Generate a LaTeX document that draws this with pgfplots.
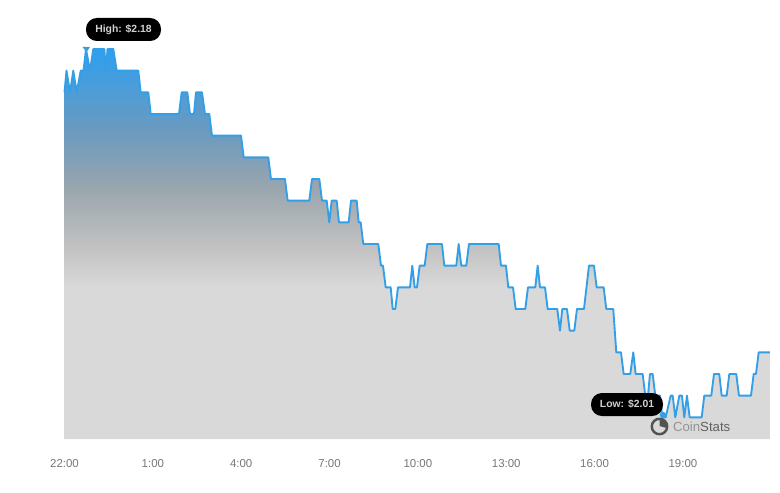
\documentclass[border=0pt]{standalone}
\usepackage{fontspec}
\setmainfont{Liberation Sans}
\usepackage{pgfplots}
\usepackage{pgfplotstable}
\pgfplotsset{compat=1.18}
\definecolor{lineblue}{HTML}{339FE6}
\definecolor{gBlue}{HTML}{2F9FEF}
\definecolor{gA}{HTML}{6B9ABF}
\definecolor{gB}{HTML}{9AA6AE}
\definecolor{gC}{HTML}{C0C0C0}
\definecolor{gD}{HTML}{D9D9D9}
\definecolor{ticktxt}{HTML}{777777}
\pgfdeclareverticalshading{areaGrad}{100bp}{color(0bp)=(gD); color(44.5bp)=(gD); color(50bp)=(gC); color(57bp)=(gB); color(64.5bp)=(gA); color(75bp)=(gBlue); color(100bp)=(gBlue)}
\pgfplotstableread{
px p
64.5 2.16
66.5 2.17
70 2.16
73.3 2.17
76.7 2.16
80.7 2.17
83.5 2.17
86 2.18
90 2.17
93.3 2.18
104.3 2.18
106 2.17
107.5 2.18
113.3 2.18
116.7 2.17
138.3 2.17
140.7 2.16
148.3 2.16
150.7 2.15
179 2.15
181.7 2.16
187.3 2.16
190 2.15
194 2.15
196 2.16
202 2.16
205 2.15
209.3 2.15
212 2.14
241 2.14
243.7 2.13
268.3 2.13
271 2.12
285 2.12
287.7 2.11
309.3 2.11
312 2.12
319.3 2.12
322 2.11
326.7 2.11
329.3 2.10
331.7 2.11
336.7 2.11
339 2.10
348.7 2.10
351 2.11
356.7 2.11
358.7 2.10
360.7 2.10
363.3 2.09
378.3 2.09
381 2.08
383 2.08
385.7 2.07
390.7 2.07
392.7 2.06
395.3 2.06
398 2.07
410 2.07
412.3 2.08
414.7 2.07
417 2.07
419.7 2.08
424.7 2.08
427.3 2.09
442 2.09
444.3 2.08
456.3 2.08
458.7 2.09
461.3 2.08
466.3 2.08
469 2.09
498.7 2.09
501 2.08
506 2.08
508.3 2.07
513 2.07
515.7 2.06
525.3 2.06
528 2.07
535.3 2.07
537.7 2.08
540 2.07
545 2.07
547.7 2.06
557.3 2.06
560 2.05
562.3 2.06
567 2.06
569.7 2.05
574.3 2.05
577 2.06
584 2.06
589 2.08
594 2.08
596.7 2.07
603.7 2.07
606.3 2.06
613.3 2.06
616.3 2.04
621 2.04
623.7 2.03
630.3 2.03
633.3 2.04
635.7 2.03
642.7 2.03
645.3 2.02
648 2.02
650 2.03
652.7 2.03
655.3 2.02
660 2.02
662.3 2.01
665.7 2.01
670.7 2.02
672.7 2.02
675.3 2.01
679.3 2.02
682 2.02
684.3 2.01
687 2.02
689.7 2.01
701.7 2.01
704.3 2.02
711.3 2.02
714 2.03
719.3 2.03
721.7 2.02
726.7 2.02
729.3 2.03
736.3 2.03
739 2.02
751 2.02
753.7 2.03
756 2.03
758.7 2.04
770 2.04
}\pricedata
\begin{document}
\begin{tikzpicture}[x=0.75pt,y=-0.75pt]
\path[use as bounding box] (0,0) rectangle (780,492);
\begin{axis}[
  at={(48.375pt,-329.25pt)}, anchor=south west,
  scale only axis, width=529.1pt, height=292.5pt,
  xmin=0, xmax=23.956, ymin=2.00, ymax=2.18,
  axis line style={draw=none},
  major tick length=0pt,
  ytick=\empty,
  xtick={0,3,6,9,12,15,18,21},
  xticklabels={22:00,1:00,4:00,7:00,10:00,13:00,16:00,19:00},
  xticklabel style={font=\fontsize{8.6pt}{10pt}\selectfont, text=ticktxt, yshift=-11.7pt},
  clip=false,
]
\addplot[draw=none, shade, shading=areaGrad] table[x expr=(\thisrow{px}-64.5)/29.45, y=p] {\pricedata} \closedcycle;
\addplot[lineblue, line width=1.4pt, line join=round] table[x expr=(\thisrow{px}-64.5)/29.45, y=p] {\pricedata};
\end{axis}
% tooltips and watermark
\fill[lineblue] (82.5,47) -- (90,47) -- (86.5,52) -- cycle;
\fill[black, rounded corners=8.2pt] (86,18) rectangle (161,41);
\node[text=black!18, font=\bfseries\fontsize{7.8pt}{9pt}\selectfont] at (123.5,29.3) {High: \$2.18};
\fill[lineblue] (663,415) circle (3.2);
\fill[black, rounded corners=8.2pt] (591,393) rectangle (663,416);
\node[text=black!18, font=\bfseries\fontsize{7.8pt}{9pt}\selectfont] at (627,404) {Low: \$2.01};
\draw[color=black!68, line width=1.8pt] (659.5,426.5) circle (7.7);
\fill[black!68] (659.5,426) -- (659.5,418.5) arc[start angle=-90, end angle=15, radius=7.6] -- cycle;
\node[anchor=west, inner sep=0pt, font=\fontsize{9.9pt}{11pt}\selectfont, text=black!42] at (672.8,426.5) {Coin\textcolor{black!62}{Stats}};
\end{tikzpicture}
\end{document}
